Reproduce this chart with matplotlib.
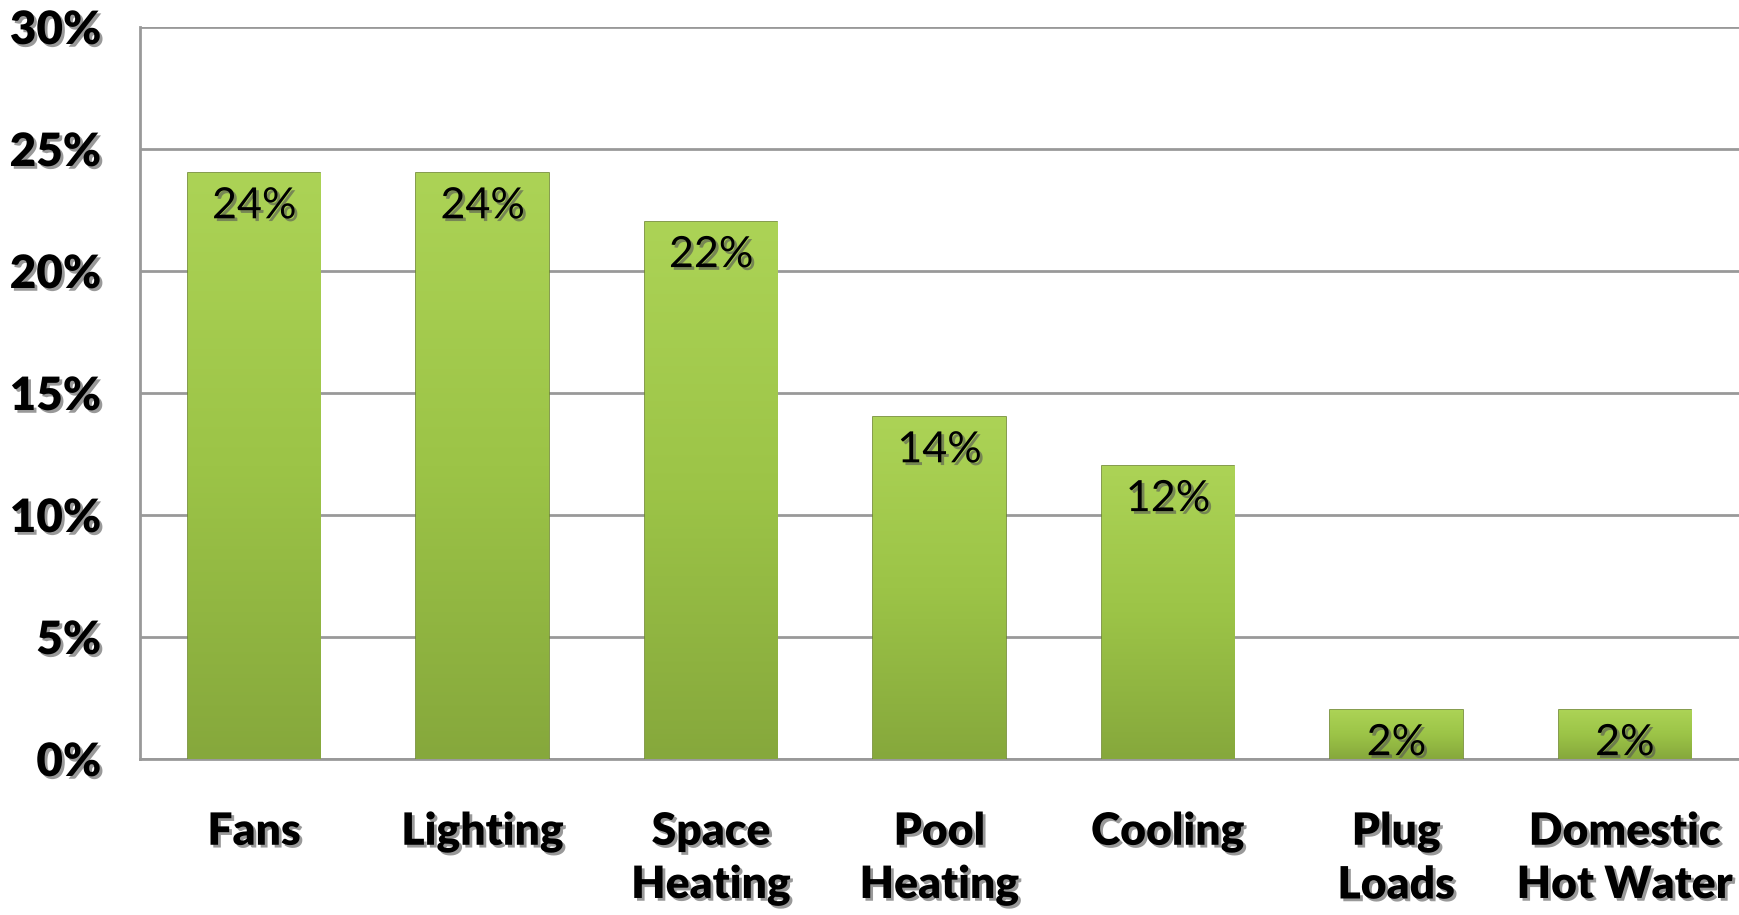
import matplotlib
matplotlib.use("Agg")
import matplotlib.pyplot as plt
import matplotlib.patheffects as pe
import numpy as np
from matplotlib.colors import LinearSegmentedColormap

categories = ["Fans", "Lighting", "Space\nHeating", "Pool\nHeating", "Cooling", "Plug\nLoads", "Domestic\nHot Water"]
values = [24, 24, 22, 14, 12, 2, 2]
yticks = [0, 5, 10, 15, 20, 25, 30]
ytick_labels = ["0%", "5%", "10%", "15%", "20%", "25%", "30%"]

plt.rcParams['font.family'] = ['Lato', 'DejaVu Sans']

fig = plt.figure(figsize=(17.39, 9.15), dpi=100)
ax = fig.add_axes([0.0805, 0.1705, 0.9195, 0.80])

x = np.arange(len(categories))
bars = ax.bar(x, values, width=0.58, color="#98bf45", edgecolor="#6f8a2e", linewidth=1.2, zorder=3)

cmap = LinearSegmentedColormap.from_list("g", ["#86a83c", "#9cc447", "#acd356"])
grad = np.linspace(0, 1, 256).reshape(-1, 1)
for b in bars:
    x0, y0 = b.get_x(), b.get_y()
    w, h = b.get_width(), b.get_height()
    im = ax.imshow(grad, cmap=cmap, origin="lower", aspect="auto",
                   extent=[x0, x0 + w, y0, y0 + h], zorder=3.5)
    im.set_clip_path(b)

shadow = [pe.withSimplePatchShadow(offset=(2, -2), shadow_rgbFace="#555555", alpha=0.6)]
for b, v in zip(bars, values):
    ax.annotate(f"{v}%", xy=(b.get_x() + b.get_width() / 2, v), xytext=(0, -10),
                textcoords="offset points", ha="center", va="top",
                fontsize=31, color="black", zorder=5, path_effects=shadow)

ax.set_xlim(-0.5, len(categories) - 0.5)
ax.set_ylim(0, 30)
ax.set_yticks(yticks)
ax.set_yticklabels(ytick_labels)
ax.set_xticks(x)
ax.set_xticklabels(categories, linespacing=1.4)

for lbl in ax.get_yticklabels() + ax.get_xticklabels():
    lbl.set_fontweight("heavy")
    lbl.set_color("black")
    lbl.set_path_effects(shadow)
for lbl in ax.get_yticklabels():
    lbl.set_fontsize(33)
for lbl in ax.get_xticklabels():
    lbl.set_fontsize(32)

ax.tick_params(axis="both", length=0)
ax.tick_params(axis="y", pad=28)
ax.tick_params(axis="x", pad=38)

ax.grid(axis="y", color="#999999", linewidth=2, zorder=0)
ax.set_axisbelow(True)
for s in ["top", "right"]:
    ax.spines[s].set_visible(False)
ax.spines["left"].set_color("#999999")
ax.spines["left"].set_linewidth(2)
ax.spines["bottom"].set_color("#999999")
ax.spines["bottom"].set_linewidth(2)

fig.savefig("out.png", dpi=100)
